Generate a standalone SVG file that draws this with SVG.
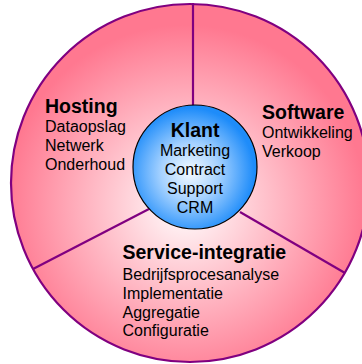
<svg xmlns="http://www.w3.org/2000/svg" width="362" height="364" viewBox="0 0 362 364">
  <defs>
    <radialGradient id="pinkGrad" gradientUnits="userSpaceOnUse" cx="185" cy="205" r="180">
      <stop offset="0" stop-color="#FFFFFF"/>
      <stop offset="0.4" stop-color="#FFC8D1"/>
      <stop offset="1" stop-color="#FF7890"/>
    </radialGradient>
    <radialGradient id="blueGrad" gradientUnits="userSpaceOnUse" cx="190" cy="172" r="64">
      <stop offset="0" stop-color="#F4FAFF"/>
      <stop offset="0.45" stop-color="#A6D2FF"/>
      <stop offset="1" stop-color="#1E8CFA"/>
    </radialGradient>
  </defs>
  <style>
    .head { font-family: "Liberation Sans", Arial, sans-serif; font-weight: bold; font-size: 19.5px; fill: #000; }
    .item { font-family: "Liberation Sans", Arial, sans-serif; font-size: 16px; fill: #000; }
    .divider { stroke: #800080; stroke-width: 2.2; fill: none; }
  </style>

  <g id="ring">
    <circle cx="190" cy="183" r="179" fill="url(#pinkGrad)" stroke="#800080" stroke-width="2.2"/>
  </g>

  <g id="connectors">
    <line class="divider" x1="193" y1="3" x2="193" y2="108"/>
    <line class="divider" x1="149" y1="209" x2="33" y2="269"/>
    <line class="divider" x1="240" y1="212" x2="345" y2="273"/>
  </g>

  <g id="hosting">
    <text class="head" x="45" y="112.5">Hosting</text>
    <text class="item" x="45" y="131.5">Dataopslag</text>
    <text class="item" x="45" y="150.5">Netwerk</text>
    <text class="item" x="45" y="169.5">Onderhoud</text>
  </g>

  <g id="software">
    <text class="head" x="262" y="118.5">Software</text>
    <text class="item" x="262" y="138">Ontwikkeling</text>
    <text class="item" x="262" y="157">Verkoop</text>
  </g>

  <g id="service-integratie">
    <text class="head" x="122.5" y="258.5">Service-integratie</text>
    <text class="item" x="122.5" y="280">Bedrijfsprocesanalyse</text>
    <text class="item" x="122.5" y="299">Implementatie</text>
    <text class="item" x="122.5" y="317.5">Aggregatie</text>
    <text class="item" x="122.5" y="336">Configuratie</text>
  </g>

  <g id="klant">
    <circle cx="195" cy="167" r="62" fill="url(#blueGrad)" stroke="#000" stroke-width="1.2"/>
    <text class="head" x="195" y="136.5" text-anchor="middle">Klant</text>
    <text class="item" x="195" y="156" text-anchor="middle">Marketing</text>
    <text class="item" x="195" y="175" text-anchor="middle">Contract</text>
    <text class="item" x="195" y="194" text-anchor="middle">Support</text>
    <text class="item" x="195" y="213" text-anchor="middle">CRM</text>
  </g>
</svg>
